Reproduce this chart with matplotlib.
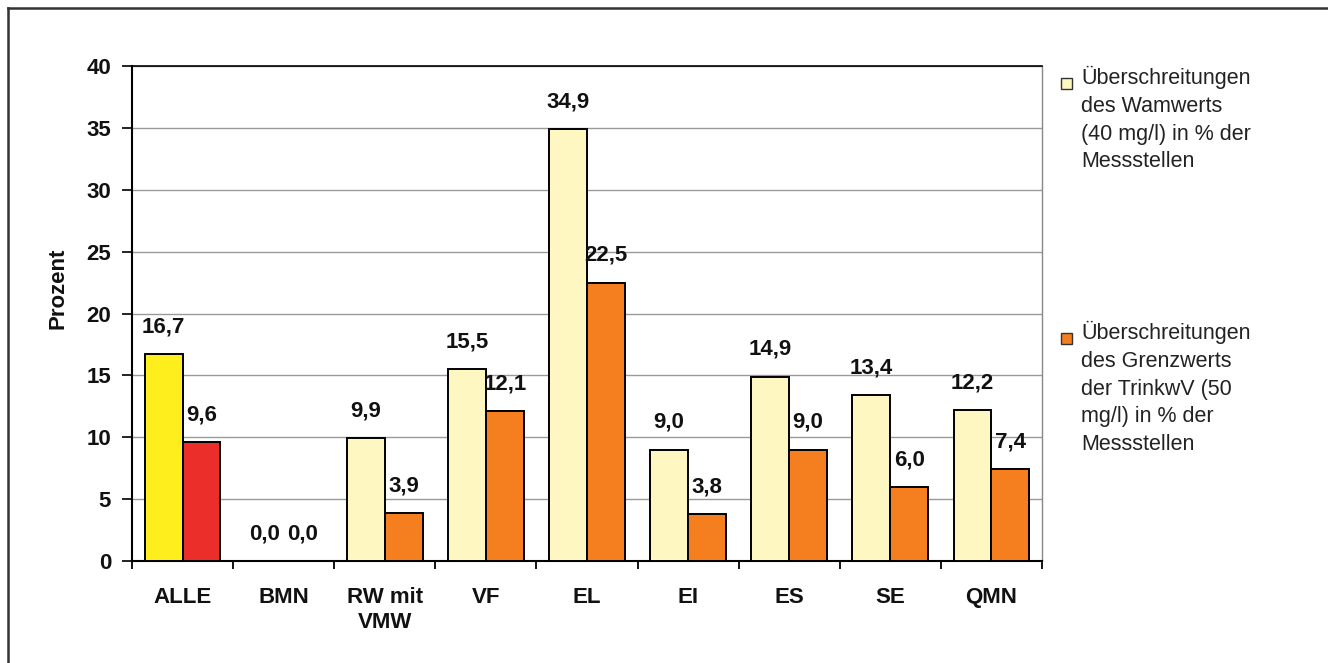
import numpy as np
import matplotlib.pyplot as plt
from matplotlib.patches import Rectangle
from matplotlib.lines import Line2D

plt.rcParams['font.family'] = ['Liberation Sans', 'DejaVu Sans']

categories = ['ALLE', 'BMN', 'RW mit\nVMW', 'VF', 'EL', 'EI', 'ES', 'SE', 'QMN']
warnwert = [16.7, 0.0, 9.9, 15.5, 34.9, 9.0, 14.9, 13.4, 12.2]
grenzwert = [9.6, 0.0, 3.9, 12.1, 22.5, 3.8, 9.0, 6.0, 7.4]
legend_labels = [
    'Überschreitungen\ndes Wamwerts\n(40 mg/l) in % der\nMessstellen',
    'Überschreitungen\ndes Grenzwerts\nder TrinkwV (50\nmg/l) in % der\nMessstellen',
]

cream = '#FFF7C2'
orange = '#F57F1F'
# the "ALLE" group is highlighted in stronger colours
warn_colors = ['#FFEE1E'] + [cream] * (len(categories) - 1)
grenz_colors = ['#EC2E2B'] + [orange] * (len(categories) - 1)

fig = plt.figure(figsize=(13.28, 6.63), dpi=100)
ax = fig.add_axes([132 / 1328, 1 - 561 / 663, (1042 - 132) / 1328, (561 - 66) / 663])

x = np.arange(len(categories))
w = 0.375
b1 = ax.bar(x - w / 2, warnwert, w, color=warn_colors, edgecolor='black', linewidth=1.4, zorder=3)
b2 = ax.bar(x + w / 2, grenzwert, w, color=grenz_colors, edgecolor='black', linewidth=1.4, zorder=3)
# zero-height bars get no outline
for bars in (b1, b2):
    for r in bars:
        if r.get_height() == 0:
            r.set_linewidth(0)

fmt = lambda v: f'{v:.1f}'.replace('.', ',')
for bars, vals in ((b1, warnwert), (b2, grenzwert)):
    for r, v in zip(bars, vals):
        ax.annotate(fmt(v), (r.get_x() + r.get_width() / 2, v), xytext=(0, 12),
                    textcoords='offset points', ha='center', va='bottom',
                    fontsize=16, fontweight='bold', color='#111111')

ax.set_xlim(-0.5, len(categories) - 0.5)
ax.set_ylim(0, 40)
ax.set_yticks(range(0, 41, 5))
ax.grid(axis='y', color='#9a9a9a', linewidth=1.0, zorder=0)
ax.set_axisbelow(True)

ax.set_xticks(x)
ax.set_xticklabels(categories, fontsize=16, fontweight='bold', linespacing=1.2)
ax.set_xticks(np.arange(-0.5, len(categories)), minor=True)
ax.tick_params(axis='x', which='major', length=0, pad=19, colors='#111111')
ax.tick_params(axis='x', which='minor', length=6, width=1.3, direction='out')
ax.tick_params(axis='y', length=7, width=1.3, pad=8, labelsize=16, colors='#111111')
for t in ax.get_yticklabels():
    t.set_fontweight('bold')

ax.set_ylabel('Prozent', fontsize=16, fontweight='bold', color='#111111')
ax.yaxis.set_label_coords(-0.07, 0.55)

for s in ('left', 'bottom'):
    ax.spines[s].set_linewidth(1.5)
ax.spines['top'].set_linewidth(1.2)
ax.spines['right'].set_color('#888888')
ax.spines['right'].set_linewidth(1.0)

# legend on the right, entries spaced far apart
legend_tops = [66, 321]
for top, lab, col in zip(legend_tops, legend_labels, [cream, orange]):
    fig.patches.append(Rectangle((1061 / 1328, 1 - (top + 23) / 663), 11 / 1328, 11 / 663,
                                 transform=fig.transFigure, facecolor=col,
                                 edgecolor='#333333', linewidth=1.0))
    fig.text(1081 / 1328, 1 - top / 663, lab, fontsize=15.5, va='top', ha='left',
             linespacing=1.42, color='#222222')

# outer frame (top and left edges)
fig.add_artist(Line2D([8 / 1328, 8 / 1328], [0, 1 - 8 / 663], transform=fig.transFigure,
                      color='#333333', linewidth=1.8))
fig.add_artist(Line2D([8 / 1328, 1], [1 - 8 / 663, 1 - 8 / 663], transform=fig.transFigure,
                      color='#333333', linewidth=1.8))

fig.savefig('out.png', dpi=100)
